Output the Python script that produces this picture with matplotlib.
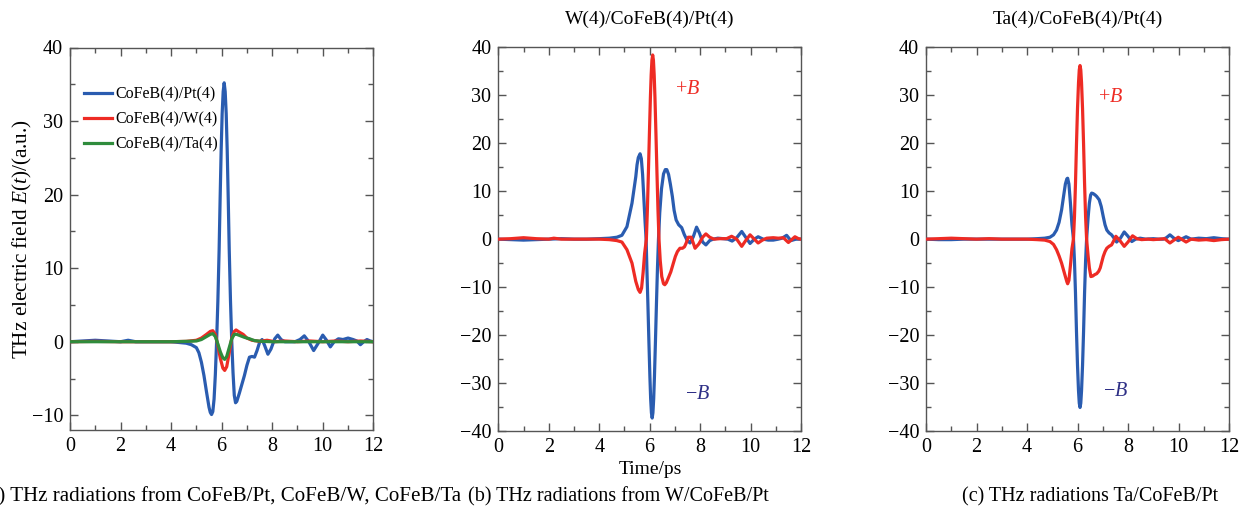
import matplotlib
matplotlib.use("Agg")
import matplotlib.pyplot as plt
from matplotlib.ticker import MultipleLocator

plt.rcParams['font.family'] = ['Liberation Serif', 'DejaVu Serif']
plt.rcParams['mathtext.fontset'] = 'custom'
plt.rcParams['mathtext.it'] = 'Liberation Serif:italic'
plt.rcParams['mathtext.rm'] = 'Liberation Serif'

BLUE = '#2a5cb0'
RED = '#ee2b24'
GREEN = '#2f8c3c'
NAVY = '#2e2f86'

# ---------------- Panel (a) data ----------------
t_a_pt = [0, 0.5, 1.0, 1.5, 2.0, 2.3, 2.6, 3.0, 3.5, 4.0, 4.3, 4.6, 4.8, 5.0, 5.1, 5.2, 5.3,
          5.4, 5.5, 5.55, 5.6, 5.65, 5.7, 5.75, 5.8, 5.85, 5.9, 5.94, 5.98, 6.02, 6.06, 6.1,
          6.14, 6.18, 6.22, 6.26, 6.3, 6.35, 6.4, 6.45, 6.5, 6.55, 6.6, 6.7, 6.8, 6.9, 7.0,
          7.1, 7.2, 7.3, 7.4, 7.5, 7.6, 7.7, 7.83, 7.95, 8.1, 8.22, 8.35, 8.5, 8.7, 8.9, 9.1,
          9.27, 9.45, 9.64, 9.82, 10.0, 10.15, 10.3, 10.45, 10.62, 10.8, 11.0, 11.2, 11.35,
          11.49, 11.62, 11.75, 11.88, 12.0]
e_a_pt = [0.0, 0.1, 0.2, 0.1, 0.0, 0.2, 0.0, 0.0, 0.0, 0.0, -0.1, -0.2, -0.4, -0.8, -1.5, -2.8,
          -4.6, -6.8, -8.9, -9.6, -9.9, -9.5, -7.8, -4.5, 0.0, 5.5, 12.5, 19.5, 26.0, 31.0, 34.0,
          35.2, 34.0, 31.0, 26.0, 19.5, 12.5, 5.5, 0.0, -4.2, -7.3, -8.3, -8.1, -7.0, -5.8, -4.6,
          -3.2, -2.1, -2.0, -2.1, -1.2, -0.1, 0.3, -0.5, -1.7, -1.0, 0.4, 0.9, 0.3, 0.0, 0.0,
          0.0, 0.3, 0.8, 0.0, -1.2, -0.2, 0.9, 0.2, -0.7, 0.0, 0.4, 0.3, 0.5, 0.3, 0.1, -0.4,
          0.0, 0.3, 0.1, 0.0]

t_a_w = [0, 1.0, 2.0, 3.0, 4.0, 4.6, 5.0, 5.2, 5.4, 5.55, 5.65, 5.75, 5.85, 5.95, 6.05, 6.12,
         6.2, 6.3, 6.4, 6.5, 6.57, 6.7, 6.85, 7.0, 7.2, 7.5, 7.8, 8.1, 8.5, 9.0, 9.5, 10.0,
         10.5, 11.0, 11.5, 12.0]
e_a_w = [0.0, 0.05, 0.0, 0.0, 0.0, 0.05, 0.2, 0.5, 1.0, 1.4, 1.5, 1.0, -0.5, -2.3, -3.6, -3.9,
         -3.4, -1.5, 0.5, 1.4, 1.6, 1.3, 1.0, 0.5, 0.2, 0.05, 0.2, 0.0, 0.1, 0.0, 0.1, 0.0,
         0.1, 0.0, 0.1, 0.0]

t_a_ta = [0, 1.0, 2.0, 3.0, 4.0, 4.6, 5.0, 5.2, 5.4, 5.55, 5.65, 5.75, 5.85, 5.95, 6.05, 6.12,
          6.2, 6.3, 6.4, 6.5, 6.6, 6.75, 6.9, 7.1, 7.3, 7.6, 8.0, 8.5, 9.0, 10.0, 11.0, 12.0]
e_a_ta = [0.0, 0.0, 0.0, 0.0, 0.0, 0.05, 0.1, 0.3, 0.7, 1.0, 1.1, 0.7, -0.3, -1.4, -2.2, -2.4,
          -2.0, -0.8, 0.4, 1.0, 1.0, 0.8, 0.6, 0.4, 0.15, 0.05, 0.0, 0.0, 0.0, 0.0, 0.0, 0.0]

# ---------------- Panel (b) data: W/CoFeB/Pt ----------------
t_b_neg = [0, 0.5, 1.0, 1.5, 2.0, 2.5, 3.0, 3.5, 4.0, 4.4, 4.7, 4.9, 5.1, 5.3, 5.45, 5.5,
           5.55, 5.62, 5.67, 5.72, 5.77, 5.82, 5.86, 5.89, 5.93, 5.97, 6.01, 6.04, 6.07, 6.1,
           6.13, 6.16, 6.19, 6.23, 6.27, 6.31, 6.35, 6.4, 6.47, 6.55, 6.62, 6.68, 6.75, 6.82,
           6.9, 6.97, 7.05, 7.15, 7.27, 7.37, 7.47, 7.6, 7.73, 7.86, 7.98, 8.1, 8.23, 8.38,
           8.52, 8.7, 8.92, 9.1, 9.27, 9.45, 9.65, 9.82, 9.98, 10.15, 10.3, 10.5, 10.7, 10.9,
           11.1, 11.25, 11.43, 11.6, 11.8, 12.0]
e_b_neg = [0.0, -0.1, -0.2, -0.1, 0.0, 0.1, 0.0, 0.0, 0.1, 0.2, 0.4, 0.8, 2.6, 7.5, 13.0, 15.5,
           17.0, 17.8, 16.8, 13.5, 8.5, 3.5, 0.0, -6.0, -13.4, -21.3, -28.7, -33.3, -36.2, -37.3,
           -36.2, -33.3, -28.7, -21.3, -13.4, -6.0, 0.0, 5.5, 10.5, 13.6, 14.5, 14.5, 13.5, 11.5,
           8.9, 6.0, 4.0, 3.0, 2.4, 1.0, -0.1, -0.8, 0.5, 2.5, 1.2, -0.6, -1.2, -0.3, 0.0, 0.2,
           0.1, 0.0, -0.4, 0.3, 1.6, 0.3, -0.9, 0.0, 0.5, 0.0, -0.2, -0.2, 0.0, 0.2, 0.8, -0.3,
           0.0, 0.0]

t_b_pos = [0, 0.5, 1.0, 1.5, 2.0, 2.2, 2.5, 3.0, 3.5, 4.0, 4.4, 4.7, 4.9, 5.1, 5.3, 5.45, 5.55,
           5.62, 5.68, 5.74, 5.8, 5.87, 5.91, 5.95, 5.99, 6.03, 6.06, 6.09, 6.12, 6.15, 6.18,
           6.21, 6.25, 6.29, 6.33, 6.37, 6.42, 6.48, 6.55, 6.6, 6.66, 6.74, 6.84, 6.94, 7.02,
           7.1, 7.2, 7.3, 7.38, 7.45, 7.53, 7.65, 7.8, 7.95, 8.1, 8.23, 8.38, 8.55, 8.8, 9.05,
           9.25, 9.45, 9.65, 9.82, 9.98, 10.15, 10.3, 10.47, 10.64, 10.9, 11.1, 11.3, 11.5,
           11.63, 11.76, 11.9, 12.0]
e_b_pos = [0.0, 0.1, 0.3, 0.1, 0.0, 0.2, 0.0, 0.0, 0.0, 0.0, -0.1, -0.3, -0.6, -2.2, -5.0, -8.8,
           -10.5, -11.1, -10.2, -7.0, -3.0, 0.0, 6.1, 13.8, 21.9, 29.6, 34.2, 37.3, 38.4, 37.3,
           34.2, 29.6, 21.9, 13.8, 6.1, 0.0, -4.5, -7.8, -9.3, -9.5, -9.1, -8.1, -6.8, -5.0,
           -3.6, -2.6, -1.9, -1.9, -1.6, -0.8, 0.4, 0.4, -1.9, -1.0, 0.4, 1.1, 0.4, 0.0, 0.1,
           0.1, 0.6, 0.0, -1.5, -0.2, 0.9, 0.0, -0.8, -0.2, 0.2, 0.3, 0.2, 0.3, -0.7, -0.1, 0.5,
           0.1, 0.0]

# ---------------- Panel (c) data: Ta/CoFeB/Pt ----------------
t_c_neg = [0, 0.5, 1.0, 1.5, 2.0, 2.5, 3.0, 3.5, 4.0, 4.4, 4.7, 4.91, 5.05, 5.17, 5.27, 5.37,
           5.45, 5.52, 5.58, 5.61, 5.66, 5.72, 5.78, 5.84, 5.88, 5.92, 5.96, 6.0, 6.04, 6.07,
           6.1, 6.13, 6.16, 6.2, 6.24, 6.28, 6.32, 6.36, 6.42, 6.47, 6.52, 6.56, 6.62, 6.7,
           6.76, 6.86, 6.94, 7.02, 7.09, 7.16, 7.25, 7.35, 7.45, 7.55, 7.7, 7.85, 8.0, 8.15,
           8.3, 8.48, 8.7, 9.0, 9.2, 9.4, 9.52, 9.66, 9.82, 9.99, 10.15, 10.3, 10.5, 10.8, 11.1,
           11.4, 11.7, 12.0]
e_c_neg = [0.0, -0.1, -0.1, 0.0, 0.0, 0.0, 0.0, 0.0, 0.0, 0.1, 0.2, 0.4, 0.9, 1.9, 3.5, 6.1,
           9.0, 11.5, 12.6, 12.7, 11.5, 7.5, 3.0, 0.0, -4.6, -11.2, -19.3, -26.3, -31.6, -34.2,
           -35.1, -34.2, -31.6, -26.3, -19.3, -11.2, -4.6, 0.0, 4.5, 7.5, 9.2, 9.6, 9.5, 9.2,
           8.9, 8.2, 6.8, 4.7, 3.0, 1.9, 1.3, 0.9, 0.2, -0.6, 0.2, 1.5, 0.6, -0.5, 0.0, 0.2,
           0.0, 0.1, 0.0, 0.0, 0.3, 0.9, 0.2, -0.3, 0.1, 0.5, 0.0, 0.2, 0.1, 0.3, 0.1, 0.0]

t_c_pos = [0, 0.5, 1.0, 1.5, 2.0, 2.5, 3.0, 3.5, 4.0, 4.4, 4.7, 4.91, 5.05, 5.17, 5.27, 5.37,
           5.45, 5.52, 5.58, 5.61, 5.66, 5.72, 5.78, 5.84, 5.88, 5.92, 5.96, 6.0, 6.04, 6.07,
           6.1, 6.13, 6.16, 6.2, 6.24, 6.28, 6.32, 6.36, 6.42, 6.47, 6.53, 6.6, 6.68, 6.76,
           6.84, 6.9, 6.96, 7.02, 7.09, 7.16, 7.25, 7.35, 7.44, 7.52, 7.68, 7.85, 8.0, 8.18,
           8.35, 8.54, 8.8, 9.0, 9.25, 9.45, 9.66, 9.82, 9.99, 10.15, 10.3, 10.5, 10.8, 11.1,
           11.4, 11.7, 12.0]
e_c_pos = [0.0, 0.1, 0.2, 0.1, 0.0, 0.1, 0.0, 0.0, 0.0, -0.1, -0.2, -0.5, -1.1, -2.2, -3.5, -5.0,
           -6.5, -7.8, -8.9, -9.3, -8.6, -5.5, -2.0, 0.0, 4.7, 11.6, 19.9, 27.2, 32.6, 35.3,
           36.2, 35.3, 32.6, 27.2, 19.9, 11.6, 4.7, 0.0, -3.5, -6.0, -7.8, -7.7, -7.4, -7.2,
           -6.7, -6.0, -4.8, -3.6, -2.6, -1.9, -1.5, -1.2, -0.3, 0.6, -0.3, -1.5, -0.6, 0.7,
           0.1, -0.1, 0.0, -0.1, 0.0, 0.1, -0.8, -0.2, 0.4, -0.1, -0.6, 0.0, -0.2, -0.1, -0.3,
           -0.1, 0.0]

# ---------------- Text ----------------
legend_labels = ['CoFeB(4)/Pt(4)', 'CoFeB(4)/W(4)', 'CoFeB(4)/Ta(4)']
titles = ['', 'W(4)/CoFeB(4)/Pt(4)', 'Ta(4)/CoFeB(4)/Pt(4)']
captions = ['(a) THz radiations from CoFeB/Pt, CoFeB/W, CoFeB/Ta',
            '(b) THz radiations from W/CoFeB/Pt',
            '(c) THz radiations Ta/CoFeB/Pt']
ylabel = 'THz electric field $E$($t$)/(a.u.)'
xlabel = 'Time/ps'

W, H = 1241, 512
fig = plt.figure(figsize=(W / 100, H / 100), dpi=100)


def ax_at(x0, y0, x1, y1):
    return fig.add_axes([x0 / W, 1 - y1 / H, (x1 - x0) / W, (y1 - y0) / H])


axa = ax_at(70, 47.5, 373.3, 430)
axb = ax_at(498.3, 47.3, 801, 431)
axc = ax_at(926, 47.3, 1229, 431)

lw = 2.3
axa.plot(t_a_pt, e_a_pt, color=BLUE, lw=lw, label=legend_labels[0], zorder=3)
axa.plot(t_a_w, e_a_w, color=RED, lw=lw, label=legend_labels[1], zorder=4)
axa.plot(t_a_ta, e_a_ta, color=GREEN, lw=lw, label=legend_labels[2], zorder=5)
axa.set_ylim(-12, 40)

axb.plot(t_b_neg, e_b_neg, color=BLUE, lw=lw, zorder=3)
axb.plot(t_b_pos, e_b_pos, color=RED, lw=lw, zorder=4)
axb.set_ylim(-40, 40)

axc.plot(t_c_neg, e_c_neg, color=BLUE, lw=lw, zorder=3)
axc.plot(t_c_pos, e_c_pos, color=RED, lw=lw, zorder=4)
axc.set_ylim(-40, 40)

for ax in (axa, axb, axc):
    ax.set_xlim(0, 12)
    ax.xaxis.set_major_locator(MultipleLocator(2))
    ax.xaxis.set_minor_locator(MultipleLocator(1))
    ax.yaxis.set_major_locator(MultipleLocator(10))
    ax.yaxis.set_minor_locator(MultipleLocator(5))
    ax.tick_params(which='both', direction='in', top=True, right=True,
                   color='#555555', width=1.0, labelsize=14.5)
    ax.tick_params(which='major', length=6)
    ax.tick_params(which='minor', length=3.5)
    ax.tick_params(axis='y', pad=5)
    ax.tick_params(axis='x', pad=5)
    for s in ax.spines.values():
        s.set_color('#555555')
        s.set_linewidth(1.0)

axa.set_ylabel(ylabel, fontsize=15.3, labelpad=-1.5)
axa.legend(loc='upper left', bbox_to_anchor=(0.0, 0.935), frameon=False, fontsize=11.5,
           handlelength=1.7, handletextpad=0.25, labelspacing=0.55, borderaxespad=0.5)

axb.set_title(titles[1], fontsize=14, pad=17)
axc.set_title(titles[2], fontsize=14, pad=17)

axb.text(7.5, 31.1, '$+B$', color=RED, fontsize=14.5, ha='center', va='center')
axb.text(7.9, -32.3, '$-B$', color=NAVY, fontsize=14.5, ha='center', va='center')
axc.text(7.3, 29.5, '$+B$', color=RED, fontsize=14.5, ha='center', va='center')
axc.text(7.5, -31.8, '$-B$', color=NAVY, fontsize=14.5, ha='center', va='center')

fig.text(650 / W, 1 - 470 / H, xlabel, fontsize=14, ha='center', va='center')
fig.text(461 / W, 1 - 497 / H, captions[0], fontsize=15.1, ha='right', va='center')
fig.text(468 / W, 1 - 497 / H, captions[1], fontsize=14.5, ha='left', va='center')
fig.text(1090 / W, 1 - 497 / H, captions[2], fontsize=14.5, ha='center', va='center')

fig.savefig('out.png', dpi=100)
